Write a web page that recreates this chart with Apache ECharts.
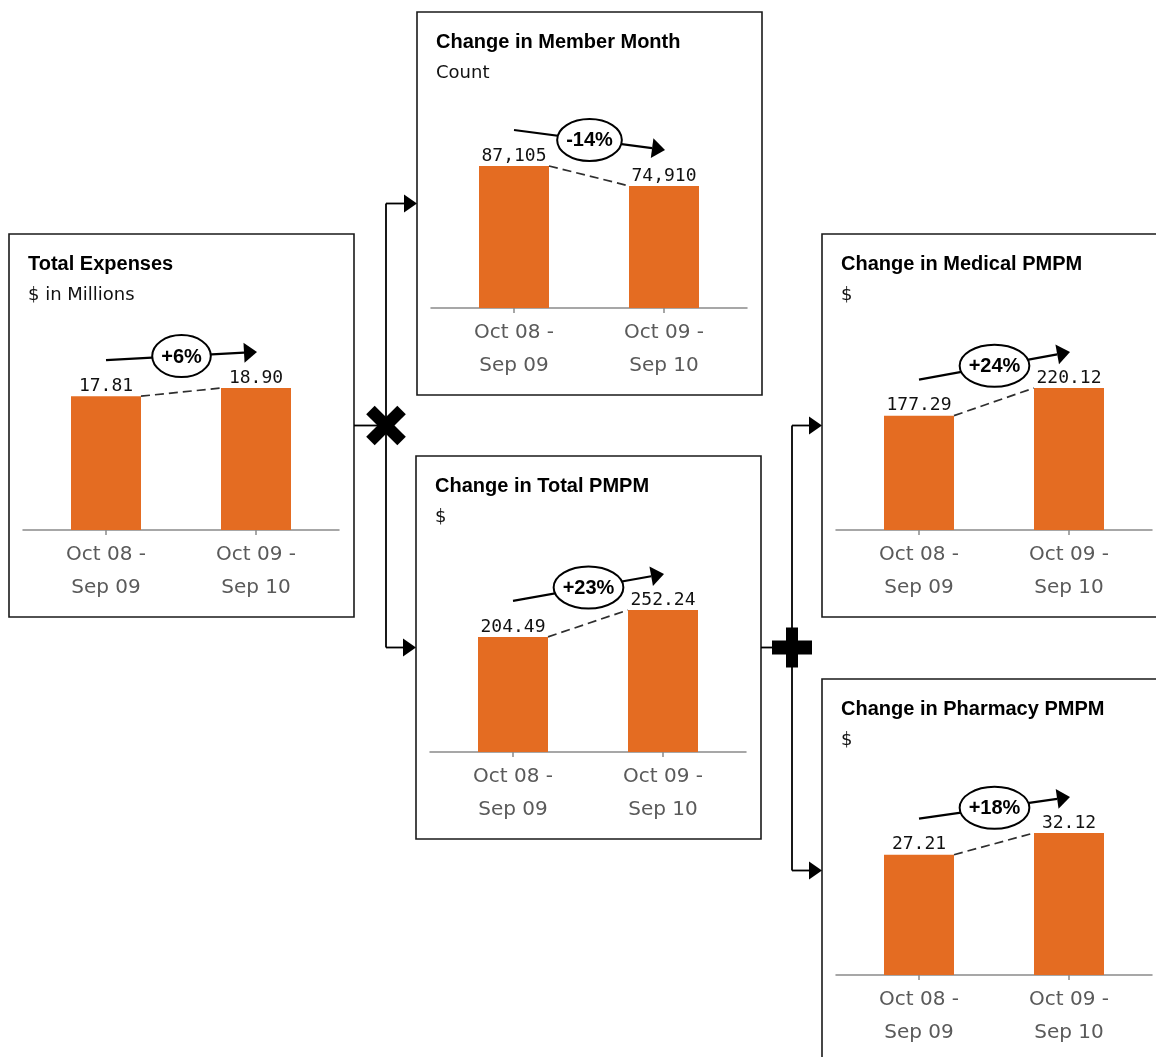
<!DOCTYPE html>
<html>
<head>
<meta charset="utf-8">
<script src="https://cdn.jsdelivr.net/npm/echarts@6/dist/echarts.min.js"></script>
<style>
  html, body { margin: 0; padding: 0; background: #ffffff; }
  #chart { width: 1156px; height: 1057px; }
</style>
</head>
<body>
<div id="chart"></div>
<script>
// ---- data ----
const periods = ['Oct 08 -\nSep 09', 'Oct 09 -\nSep 10'];
const totalExpenses = [17.81, 18.90];
const memberMonths = [87105, 74910];
const totalPmpm = [204.49, 252.24];
const medicalPmpm = [177.29, 220.12];
const pharmacyPmpm = [27.21, 32.12];
const panelTitles = ['Total Expenses', 'Change in Member Month', 'Change in Total PMPM',
                     'Change in Medical PMPM', 'Change in Pharmacy PMPM'];
const panelUnits = ['$ in Millions', 'Count', '$', '$', '$'];
const valueDecimals = [2, 0, 2, 2, 2];

// ---- layout ----
const panelValues = [totalExpenses, memberMonths, totalPmpm, medicalPmpm, pharmacyPmpm];
const frames = [{ x: 9, y: 234 }, { x: 417, y: 12 }, { x: 416, y: 456 }, { x: 822, y: 234 }, { x: 822, y: 679 }];
const BOX_W = 345, BOX_H = 383;
const BAR_W = 70;
const PLOT_H = 142;
const BAR_COLOR = '#E46C22';
const AXIS_GRAY = '#8a8a8a';

const measureCtx = document.createElement('canvas').getContext('2d');
const BADGE_FONT = 'bold 20px "Liberation Sans", Arial, sans-serif';
measureCtx.font = BADGE_FONT;

function fmtValue(v, d) {
  return v.toLocaleString('en-US', { minimumFractionDigits: d, maximumFractionDigits: d });
}

// Dashed link between the bar tops plus the trend arrow with a percent badge.
function renderChange(params, api) {
  const v0 = api.value(1), v1 = api.value(2);
  const a = api.coord([0, v0]);
  const b = api.coord([1, v1]);
  const half = BAR_W / 2;
  const lift = 36;
  const sx = a[0], sy = a[1] - lift;
  const ex = b[0] + 1, ey = b[1] - lift;
  const ang = Math.atan2(ey - sy, ex - sx);
  const headLen = 13, headHalf = 10;
  const hx = ex - headLen * Math.cos(ang), hy = ey - headLen * Math.sin(ang);
  const nx = -Math.sin(ang), ny = Math.cos(ang);
  const pct = Math.round((v1 / v0 - 1) * 100);
  const label = (pct > 0 ? '+' : '') + pct + '%';
  const mx = (sx + ex) / 2, my = (sy + ey) / 2;
  const rx = measureCtx.measureText(label).width / 2 + 9;
  const ry = 21;
  return {
    type: 'group',
    children: [
      { type: 'line', shape: { x1: a[0] + half, y1: a[1], x2: b[0] - half, y2: b[1] },
        style: { stroke: '#2e2e2e', lineWidth: 1.7, lineDash: [9, 5] } },
      { type: 'line', shape: { x1: sx, y1: sy, x2: hx, y2: hy },
        style: { stroke: '#000', lineWidth: 2.2 } },
      { type: 'polygon', shape: { points: [[ex, ey], [hx + nx * headHalf, hy + ny * headHalf], [hx - nx * headHalf, hy - ny * headHalf]] },
        style: { fill: '#000' } },
      { type: 'path',
        shape: { pathData: 'M0,1 A1,1 0 1 0 2,1 A1,1 0 1 0 0,1 Z', x: mx - rx, y: my - ry, width: rx * 2, height: ry * 2, layout: 'cover' },
        style: { fill: '#fff', stroke: '#000', lineWidth: 2 } },
      { type: 'text', x: mx, y: my + 1,
        style: { text: label, fill: '#000', font: BADGE_FONT, align: 'center', verticalAlign: 'middle' } }
    ]
  };
}

const grids = [], xAxes = [], yAxes = [], series = [], titles = [];

panelValues.forEach((vals, i) => {
  const f = frames[i];
  const top = f.y + 296 - PLOT_H;
  const baseIdx = i * 2, barIdx = i * 2 + 1;

  // baseline grid (slightly wider than the bar grid)
  grids.push({ left: f.x + 14, top: top, width: 316, height: PLOT_H });
  xAxes.push({ gridIndex: baseIdx, type: 'category', data: [''],
    axisLine: { show: true, lineStyle: { color: AXIS_GRAY, width: 1.5 } },
    axisTick: { show: false }, axisLabel: { show: false } });
  yAxes.push({ gridIndex: baseIdx, type: 'value', show: false, min: 0, max: 1 });

  // bar grid
  grids.push({ left: f.x + 22, top: top, width: 300, height: PLOT_H });
  xAxes.push({ gridIndex: barIdx, type: 'category', data: periods,
    axisLine: { show: false },
    axisTick: { show: true, alignWithLabel: true, length: 5, lineStyle: { color: AXIS_GRAY, width: 1.5 } },
    axisLabel: { fontFamily: 'DejaVu Sans', fontSize: 20, color: '#5a5a5a', lineHeight: 33, margin: 8 } });
  yAxes.push({ gridIndex: barIdx, type: 'value', show: false, min: 0, max: 'dataMax', splitLine: { show: false } });

  series.push({
    type: 'bar', xAxisIndex: barIdx, yAxisIndex: barIdx, data: vals, barWidth: BAR_W,
    itemStyle: { color: BAR_COLOR }, silent: true,
    label: { show: true, position: 'top', distance: 1, fontFamily: 'DejaVu Sans Mono', fontSize: 18,
      color: '#111', formatter: (p) => fmtValue(p.value, valueDecimals[i]) }
  });
  series.push({
    type: 'custom', xAxisIndex: barIdx, yAxisIndex: barIdx, clip: false, silent: true, z: 5,
    data: [[0, vals[0], vals[1]]], encode: { x: 0, y: [1, 2] }, renderItem: renderChange
  });

  titles.push({
    left: f.x + 19, top: f.y + 20, padding: 0, itemGap: 12,
    text: panelTitles[i], subtext: panelUnits[i],
    textStyle: { fontFamily: 'Liberation Sans', fontWeight: 'bold', fontSize: 20, color: '#000' },
    subtextStyle: { fontFamily: 'DejaVu Sans', fontSize: 18, color: '#111' }
  });
});

// ---- frames and connectors ----
const graphics = [];
frames.forEach((f) => {
  graphics.push({ type: 'rect', z: 1, shape: { x: f.x, y: f.y, width: BOX_W, height: BOX_H },
    style: { fill: 'none', stroke: '#1a1a1a', lineWidth: 1.6 } });
});
const midY = (i) => frames[i].y + BOX_H / 2;
const rightX = (i) => frames[i].x + BOX_W;
function seg(x1, y1, x2, y2) {
  graphics.push({ type: 'line', z: 2, shape: { x1, y1, x2, y2 }, style: { stroke: '#000', lineWidth: 1.8 } });
}
function arrowTo(x1, y, x2) {
  seg(x1, y, x2 - 12, y);
  graphics.push({ type: 'polygon', z: 2, shape: { points: [[x2, y], [x2 - 13, y - 9], [x2 - 13, y + 9]] }, style: { fill: '#000' } });
}

// multiplication node: expenses = member months x total PMPM
const jx1 = rightX(0) + 32;
seg(rightX(0), midY(0), jx1, midY(0));
seg(jx1, midY(1), jx1, midY(2));
arrowTo(jx1, midY(1), frames[1].x);
arrowTo(jx1, midY(2), frames[2].x);
[Math.PI / 4, -Math.PI / 4].forEach((r) => {
  graphics.push({ type: 'rect', z: 3, x: jx1, y: midY(0), rotation: r,
    shape: { x: -22, y: -6, width: 44, height: 12 }, style: { fill: '#000' } });
});

// addition node: total PMPM = medical PMPM + pharmacy PMPM
const jx2 = rightX(2) + 31;
seg(rightX(2), midY(2), jx2, midY(2));
seg(jx2, midY(3), jx2, midY(4));
arrowTo(jx2, midY(3), frames[3].x);
arrowTo(jx2, midY(4), frames[4].x);
graphics.push({ type: 'rect', z: 3, shape: { x: jx2 - 20, y: midY(2) - 7, width: 40, height: 14 }, style: { fill: '#000' } });
graphics.push({ type: 'rect', z: 3, shape: { x: jx2 - 6, y: midY(2) - 20, width: 12, height: 40 }, style: { fill: '#000' } });

const chart = echarts.init(document.getElementById('chart'), null, { renderer: 'canvas' });
chart.setOption({
  animation: false,
  backgroundColor: '#ffffff',
  title: titles,
  grid: grids,
  xAxis: xAxes,
  yAxis: yAxes,
  series: series,
  graphic: { elements: graphics }
});
</script>
</body>
</html>
